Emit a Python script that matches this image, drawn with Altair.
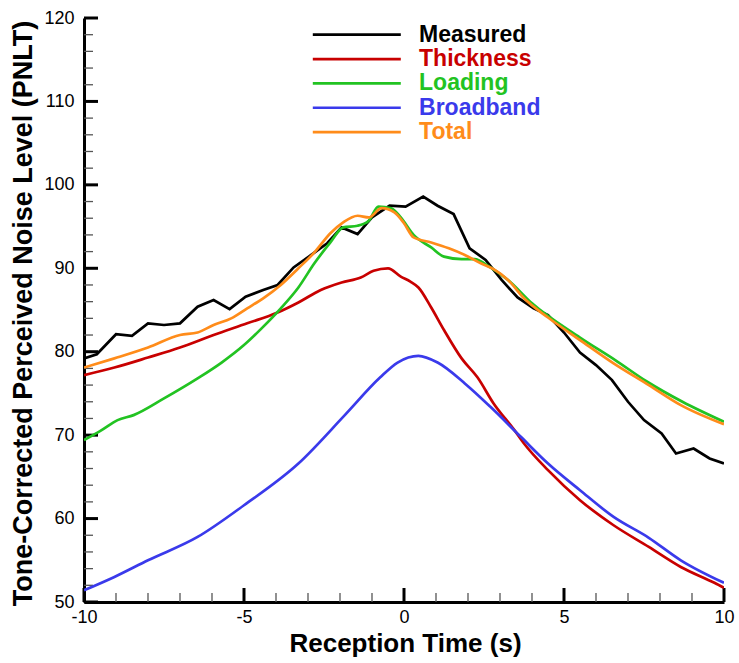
import altair as alt
import pandas as pd

# ---- series data: reception time (s) vs PNLT (dB) ----
measured_t = [-10, -9.6, -9.0, -8.5, -8.0, -7.5, -7.0, -6.45, -5.95, -5.45, -4.95, -4.4, -3.95,
              -3.45, -2.9, -2.4, -1.95, -1.45, -1.0, -0.45, 0.05, 0.6, 1.05, 1.55, 2.05, 2.55,
              3.05, 3.55, 4.05, 4.5, 5.0, 5.5, 6.0, 6.5, 7.0, 7.5, 8.05, 8.5, 9.05, 9.55, 10]
measured_db = [79.2, 79.7, 82.1, 81.9, 83.4, 83.2, 83.4, 85.4, 86.2, 85.1, 86.6, 87.4, 88.0,
               90.1, 91.6, 93.0, 94.9, 94.1, 96.1, 97.5, 97.4, 98.6, 97.5, 96.5, 92.4, 91.0,
               88.6, 86.5, 85.2, 84.4, 82.3, 79.9, 78.4, 76.6, 74.0, 71.8, 70.2, 67.8, 68.4, 67.2, 66.6]

thickness_t = [-10, -9.05, -8.0, -7.0, -5.95, -4.9, -3.95, -3.3, -2.6, -1.95, -1.35, -0.95, -0.5,
               -0.1, 0.2, 0.45, 0.85, 1.25, 1.8, 2.3, 2.8, 3.45, 3.75, 4.5, 5.5, 6.55, 7.65, 8.65, 9.7, 10]
thickness_db = [77.2, 78.1, 79.3, 80.5, 82.0, 83.4, 84.7, 85.9, 87.4, 88.3, 88.9, 89.7, 90.0,
                89.0, 88.4, 87.7, 85.3, 82.6, 79.2, 76.9, 73.8, 70.6, 69.0, 65.8, 62.2, 59.2, 56.6, 54.2, 52.3, 51.7]

loading_t = [-10, -9.45, -8.95, -8.45, -7.5, -6.45, -5.7, -5.0, -4.45, -3.85, -3.3, -2.8, -2.3,
             -1.9, -1.45, -1.1, -0.8, -0.4, -0.1, 0.3, 0.85, 1.25, 1.8, 2.2, 2.7, 3.25, 4.0,
             5.5, 6.6, 7.6, 8.7, 10]
loading_db = [69.4, 70.6, 71.8, 72.4, 74.4, 76.8, 78.7, 80.8, 82.8, 85.2, 87.7, 90.6, 93.1,
              94.9, 95.1, 95.7, 97.4, 97.2, 96.1, 94.0, 92.5, 91.4, 91.1, 91.1, 90.1, 88.6, 85.8,
              81.7, 79.0, 76.4, 74.0, 71.6]

broadband_t = [-10, -9.05, -8.0, -6.45, -5.0, -3.3, -1.85, -0.75, -0.2, 0.45, 1.05, 1.9, 2.7,
               3.65, 4.5, 5.5, 6.55, 7.65, 8.65, 10]
broadband_db = [51.4, 53.0, 55.0, 57.8, 61.6, 66.6, 72.4, 76.9, 78.7, 79.5, 78.7, 76.2, 73.4,
                69.8, 66.6, 63.4, 60.2, 57.7, 55.0, 52.3]

total_t = [-10, -9.05, -8.0, -7.0, -6.45, -5.95, -5.4, -4.9, -4.4, -3.85, -3.3, -2.8, -2.3, -1.9,
           -1.45, -1.1, -0.7, -0.3, 0.0, 0.3, 0.85, 1.4, 1.9, 2.4, 2.8, 3.25, 3.75, 4.5, 5.5,
           6.55, 7.65, 8.65, 10]
total_db = [78.1, 79.2, 80.5, 82.0, 82.3, 83.2, 84.0, 85.2, 86.4, 88.0, 90.0, 91.9, 94.2, 95.5,
            96.3, 96.1, 97.2, 96.7, 95.4, 93.7, 93.1, 92.4, 91.6, 90.6, 89.9, 88.6, 86.4, 84.1, 81.4,
            78.6, 76.0, 73.6, 71.3]

series_names = ["Measured", "Thickness", "Loading", "Broadband", "Total"]
series_colors = ["#000000", "#C80000", "#22C322", "#3A3AEB", "#FF8C1A"]
series_data = [(measured_t, measured_db), (thickness_t, thickness_db), (loading_t, loading_db),
               (broadband_t, broadband_db), (total_t, total_db)]

x_major = [-10, -5, 0, 5, 10]
x_minor = list(range(-10, 11))
y_major = list(range(50, 121, 10))
y_minor = list(range(50, 121, 2))

FONT = "Liberation Sans"
W, H = 640, 584

xscale = alt.Scale(domain=[-10, 10], nice=False, zero=False)
yscale = alt.Scale(domain=[50, 120], nice=False, zero=False)

# plain ASCII hyphen for negative tick labels
plain_label = "'' + datum.value"

x_axis = alt.Axis(values=x_major, labelExpr=plain_label, ticks=False, tickSize=0, grid=False,
                  domainColor="black", domainWidth=3, labelFont=FONT, labelFontSize=18,
                  labelColor="black", labelPadding=6, labelFlush=False,
                  title="Reception Time (s)", titleFont=FONT, titleFontSize=26,
                  titleFontWeight="bold", titleColor="black", titleX=321, titleY=49,
                  titleBaseline="alphabetic", titleAnchor="middle")
y_axis = alt.Axis(values=y_major, labelExpr=plain_label, ticks=False, tickSize=0, grid=False,
                  domainColor="black", domainWidth=3, labelFont=FONT, labelFontSize=18,
                  labelColor="black", labelPadding=10, labelFlush=False,
                  title="Tone-Corrected Perceived Noise Level (PNLT)", titleFont=FONT,
                  titleFontSize=27, titleFontWeight="bold", titleColor="black",
                  titleAngle=-90, titleX=-53, titleY=295, titleBaseline="alphabetic",
                  titleAnchor="middle")

layers = []

# base layer carrying the axes
layers.append(
    alt.Chart(pd.DataFrame({"t": [-10], "db": [50]})).mark_point(opacity=0).encode(
        x=alt.X("t:Q", scale=xscale, axis=x_axis),
        y=alt.Y("db:Q", scale=yscale, axis=y_axis),
    )
)

# inward-pointing tick marks
xmaj = pd.DataFrame({"t": x_major})
xmin = pd.DataFrame({"t": [v for v in x_minor if v not in x_major]})
ymaj = pd.DataFrame({"db": y_major})
ymin = pd.DataFrame({"db": [v for v in y_minor if v not in y_major]})

layers.append(alt.Chart(xmaj).mark_rule(color="black", strokeWidth=3).encode(
    x=alt.X("t:Q", scale=xscale), y=alt.value(H), y2=alt.value(H - 14)))
layers.append(alt.Chart(xmin).mark_rule(color="#555555", strokeWidth=1.3).encode(
    x=alt.X("t:Q", scale=xscale), y=alt.value(H), y2=alt.value(H - 9)))
layers.append(alt.Chart(ymaj).mark_rule(color="black", strokeWidth=3).encode(
    y=alt.Y("db:Q", scale=yscale), x=alt.value(0), x2=alt.value(14)))
layers.append(alt.Chart(ymin).mark_rule(color="#555555", strokeWidth=1.3).encode(
    y=alt.Y("db:Q", scale=yscale), x=alt.value(0), x2=alt.value(9)))

# the five curves, drawn in series order
for name, color, (ts, dbs) in zip(series_names, series_colors, series_data):
    df = pd.DataFrame({"t": ts, "db": dbs})
    interp = "linear" if name == "Measured" else "monotone"
    layers.append(
        alt.Chart(df).mark_line(color=color, strokeWidth=2.7, interpolate=interp,
                                clip=True).encode(
            x=alt.X("t:Q", scale=xscale), y=alt.Y("db:Q", scale=yscale),
            order="t:Q")
    )

# legend: short line segment plus coloured bold label per series
leg_rows = []
for i, (name, color) in enumerate(zip(series_names, series_colors)):
    yy = 118.0 - 2.92 * i
    leg_rows.append({"name": name, "color": color, "x1": -2.85, "x2": -0.1,
                     "xt": 0.47, "db": yy})
leg = pd.DataFrame(leg_rows)

layers.append(alt.Chart(leg).mark_rule(strokeWidth=2.7).encode(
    x=alt.X("x1:Q", scale=xscale), x2="x2:Q", y=alt.Y("db:Q", scale=yscale),
    color=alt.Color("color:N", scale=None)))
layers.append(alt.Chart(leg).mark_text(align="left", baseline="middle", font=FONT,
                                       fontSize=23, fontWeight="bold").encode(
    x=alt.X("xt:Q", scale=xscale), y=alt.Y("db:Q", scale=yscale), text="name:N",
    color=alt.Color("color:N", scale=None)))

chart = alt.layer(*layers).properties(
    width=W, height=H,
    autosize=alt.AutoSizeParams(type="none"),
    padding={"left": 84, "top": 18, "right": 15, "bottom": 61},
    background="white",
).configure_view(strokeWidth=0)

chart.save("out.html", embed_options={"renderer": "svg", "actions": False})
